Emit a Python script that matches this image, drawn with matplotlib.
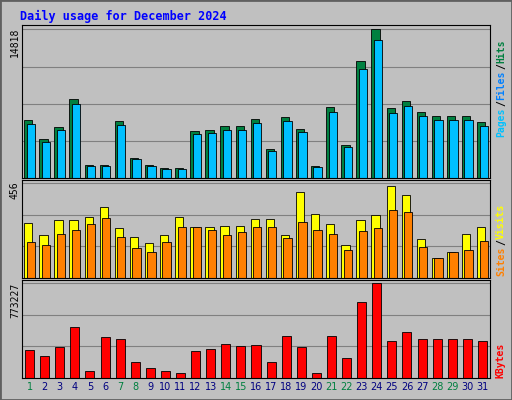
import matplotlib.pyplot as plt
import numpy as np

days = list(range(1, 32))
hits = [5800, 3900, 5100, 7900, 1300, 1300, 5700, 2000, 1300, 1000, 1000, 4700, 4800, 5200, 5200, 5900,
        2900, 6100, 4900, 1200, 7100, 3300, 11700, 14818, 7000, 7700, 6600, 6200, 6200, 6200, 5600]
files = [h * 0.93 for h in hits]
visits = [264, 206, 278, 278, 293, 341, 240, 197, 168, 206, 293, 245, 245, 250, 250, 283,
          283, 206, 413, 307, 259, 158, 278, 302, 442, 398, 187, 96, 125, 211, 245]
sites = [173, 158, 211, 230, 259, 288, 197, 144, 125, 173, 245, 245, 230, 206, 221, 245,
         245, 192, 269, 230, 211, 134, 226, 240, 326, 317, 149, 96, 125, 134, 178]
kbytes = [224000, 175000, 249000, 415000, 58000, 332000, 316000, 133000, 83000, 58000, 42000, 216000,
          233000, 274000, 258000, 266000, 133000, 341000, 249000, 42000, 341000, 166000, 615000, 773227,
          299000, 374000, 316000, 316000, 316000, 316000, 299000]
weekend = [1, 7, 8, 14, 15, 21, 22, 28, 29]

W, H = 512, 400
fig = plt.figure(figsize=(W / 100, H / 100), dpi=100, facecolor='#C0C0C0')
fig.patches.append(plt.Rectangle((0, 0), 1, 1, transform=fig.transFigure, fill=False,
                                 edgecolor='#606060', lw=2))
fig.text(20 / W, 1 - 16 / H, 'Daily usage for December 2024', color='#0000FF',
         fontsize=8.5, fontweight='bold', family='DejaVu Sans Mono', va='center')

def panel(y0, y1):
    ax = fig.add_axes([22 / W, 1 - y1 / H, (490 - 22) / W, (y1 - y0) / H])
    ax.set_facecolor('#C0C0C0')
    ax.set_xlim(0.5, 31.5)
    ax.set_xticks([])
    for s in ax.spines.values():
        s.set_color('#000000')
        s.set_linewidth(0.8)
    return ax

x = np.array(days)
ax1 = panel(25, 178)
ax1.bar(x - 0.08, hits, width=0.55, color='#008040', edgecolor='black', lw=0.6)
ax1.bar(x + 0.08, files, width=0.55, color='#00C0FF', edgecolor='black', lw=0.6)
ax1.set_ylim(0, 14818 * 1.03)
ax1.set_yticks([])
for g in np.linspace(0, 14818, 5)[1:]:
    ax1.axhline(g, color='#808080', lw=0.8, zorder=0)
fig.text(15 / W, 1 - 42 / H, '14818', rotation=90, fontsize=7, family='DejaVu Sans Mono', va='center', ha='center')

ax2 = panel(180, 278)
ax2.bar(x - 0.08, visits, width=0.55, color='#FFFF00', edgecolor='black', lw=0.6)
ax2.bar(x + 0.08, sites, width=0.55, color='#FF8000', edgecolor='black', lw=0.6)
ax2.set_ylim(0, 456 * 1.03)
ax2.set_yticks([])
for g in np.linspace(0, 456, 4)[1:]:
    ax2.axhline(g, color='#808080', lw=0.8, zorder=0)
fig.text(15 / W, 1 - 190 / H, '456', rotation=90, fontsize=7, family='DejaVu Sans Mono', va='center', ha='center')

ax3 = panel(280, 378)
ax3.bar(x, kbytes, width=0.6, color='#FF0000', edgecolor='black', lw=0.6)
ax3.set_ylim(0, 773227 * 1.03)
ax3.set_yticks([])
for g in np.linspace(0, 773227, 4)[1:]:
    ax3.axhline(g, color='#808080', lw=0.8, zorder=0)
fig.text(15 / W, 1 - 300 / H, '773227', rotation=90, fontsize=7, family='DejaVu Sans Mono', va='center', ha='center')

ax3.set_xticks(days)
ax3.set_xticklabels([str(d) for d in days], fontsize=7)
ax3.tick_params(length=0, pad=3)
for lbl, d in zip(ax3.get_xticklabels(), days):
    lbl.set_color('#008040' if d in weekend else '#000080')

def side(y, parts):
    yy = y
    for txt, col in parts:
        t = fig.text(501 / W, 1 - yy / H, txt, rotation=90, color=col, fontsize=7, fontweight='bold',
                     family='DejaVu Sans Mono', ha='center', va='bottom')
        yy -= len(txt) * 6.2

side(137, [('Pages', '#00C0FF'), ('/', '#000000'), ('Files', '#0080FF'), ('/', '#000000'), ('Hits', '#008040')])
side(276, [('Sites', '#FF8000'), ('/', '#000000'), ('Visits', '#FFFF00')])
side(378, [('KBytes', '#FF0000')])

fig.savefig('out.png', dpi=100, facecolor=fig.get_facecolor())
